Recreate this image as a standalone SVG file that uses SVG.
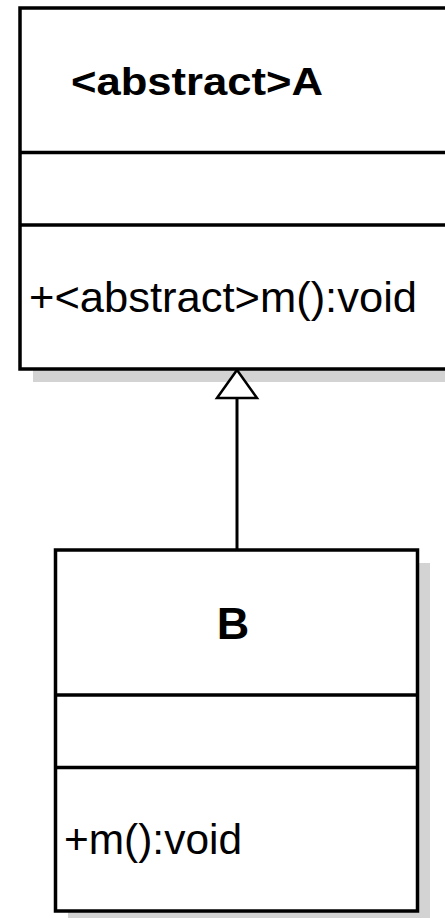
<svg xmlns="http://www.w3.org/2000/svg" width="445" height="918" viewBox="0 0 445 918">
<style>
.box{fill:#ffffff;stroke:#000000;stroke-width:3.5}
.div{stroke:#000000;stroke-width:3.5}
.shadow{fill:#d3d3d3}
.title{font-family:"Liberation Sans",Arial,sans-serif;font-weight:bold;fill:#000000}
.member{font-family:"Liberation Sans",Arial,sans-serif;font-size:43px;fill:#000000}
.edge{stroke:#000000;stroke-width:3;fill:none}
</style>
<defs>
<marker id="gen" viewBox="0 0 40 30" refX="20" refY="0" markerWidth="40" markerHeight="30" markerUnits="userSpaceOnUse" orient="auto-start-reverse" overflow="visible">
<path d="M20,1 L40,29 L0,29 Z" fill="#ffffff" stroke="#000000" stroke-width="2.5" stroke-linejoin="miter"/>
</marker>
</defs>
<rect width="445" height="918" fill="#ffffff"/>
<g id="node-A">
<rect class="shadow" x="33" y="21" width="440" height="361"/>
<rect class="box" x="20" y="8" width="440" height="361"/>
<line class="div" x1="20" y1="152.5" x2="460" y2="152.5"/>
<line class="div" x1="20" y1="225" x2="460" y2="225"/>
<text class="title" x="71" y="95" font-size="38" textLength="252" lengthAdjust="spacingAndGlyphs">&lt;abstract&gt;A</text>
<text class="member" x="29" y="312" textLength="388" lengthAdjust="spacingAndGlyphs">+&lt;abstract&gt;m():void</text>
</g>
<g id="node-B">
<rect class="shadow" x="68" y="563" width="362" height="361"/>
<rect class="box" x="55.5" y="550" width="362" height="361"/>
<line class="div" x1="55.5" y1="695" x2="417.5" y2="695"/>
<line class="div" x1="55.5" y1="767.5" x2="417.5" y2="767.5"/>
<text class="title" x="233" y="639" font-size="45" text-anchor="middle">B</text>
<text class="member" x="64" y="854" textLength="178" lengthAdjust="spacingAndGlyphs">+m():void</text>
</g>
<g id="connectors">
<line class="edge" x1="237" y1="550" x2="237" y2="398"/>
<path d="M237,370 L257,398 L217,398 Z" fill="#ffffff" stroke="#000000" stroke-width="2.5"/>
</g>
</svg>
